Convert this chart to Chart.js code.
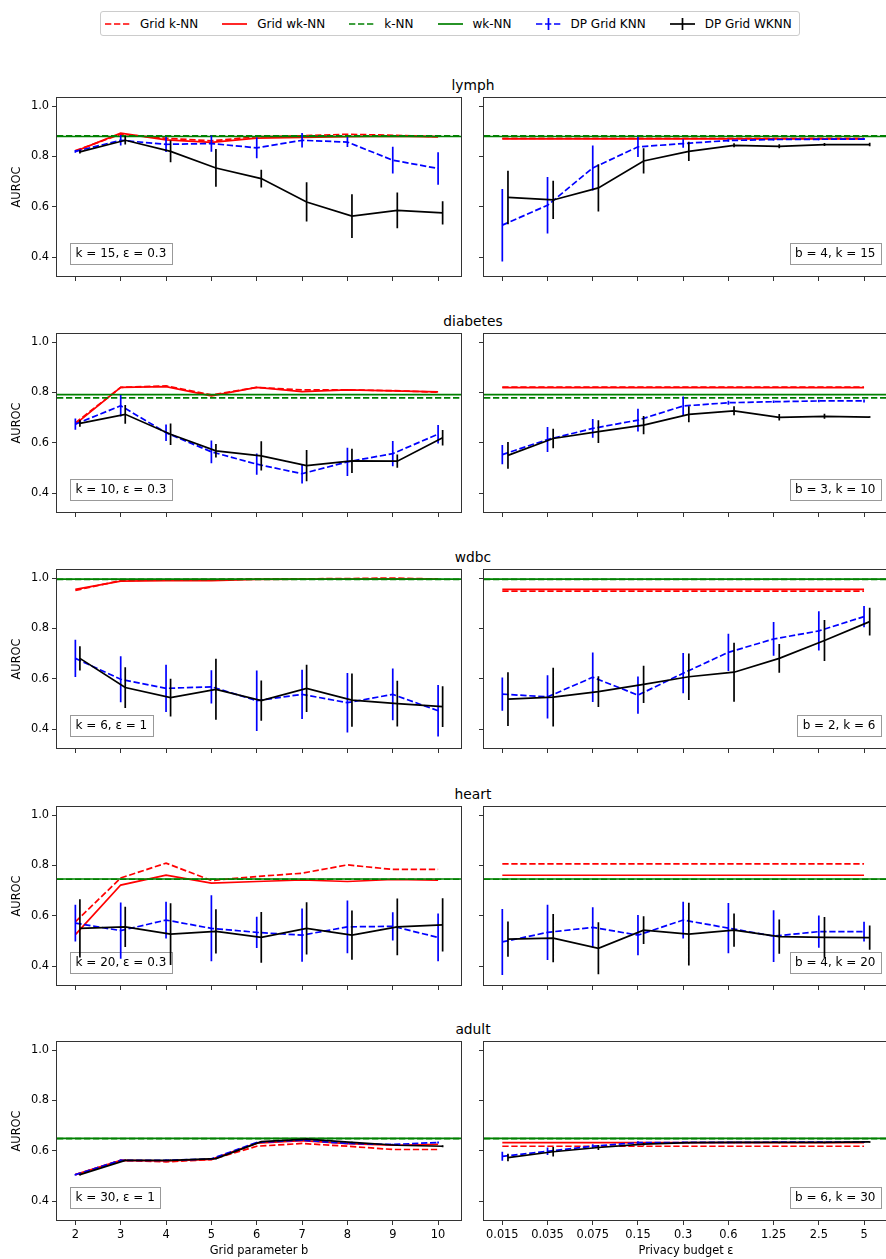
<!DOCTYPE html>
<html>
<head>
<meta charset="utf-8">
<script src="https://cdn.jsdelivr.net/npm/chart.js"></script>
<style>
  body { margin: 0; width: 886px; height: 1259px; overflow: hidden; background: #fff; position: relative; font-family: "DejaVu Sans"; }
  .panel { position: absolute; }
  .title { position: absolute; width: 200px; text-align: center; font-size: 13.8px; line-height: 14px; color: #000; }
  #legend { position: absolute; left: 100px; top: 11px; height: 23px; padding: 0 7px 0 4px; border: 1px solid #ccc; border-radius: 3px;
            display: flex; align-items: center; font-size: 12px; color: #000; background: #fff; }
  #legend .item { display: flex; align-items: center; margin-right: 24px; }
  #legend .item:last-child { margin-right: 0; }
  #legend svg { margin-right: 10px; }
</style>
</head>
<body>
<div id="legend">
  <span class="item"><svg width="25" height="12"><line x1="0" y1="6" x2="25" y2="6" stroke="#ff0000" stroke-width="1.7" stroke-dasharray="6.3 2.7"/></svg><span>Grid k-NN</span></span>
  <span class="item"><svg width="25" height="12"><line x1="0" y1="6" x2="25" y2="6" stroke="#ff0000" stroke-width="1.7"/></svg><span>Grid wk-NN</span></span>
  <span class="item"><svg width="25" height="12"><line x1="0" y1="6" x2="25" y2="6" stroke="#008000" stroke-width="1.7" stroke-dasharray="6.3 2.7"/></svg><span>k-NN</span></span>
  <span class="item"><svg width="25" height="12"><line x1="0" y1="6" x2="25" y2="6" stroke="#008000" stroke-width="1.7"/></svg><span>wk-NN</span></span>
  <span class="item"><svg width="25" height="14"><line x1="0" y1="7" x2="25" y2="7" stroke="#0000ff" stroke-width="1.7" stroke-dasharray="6.3 2.7"/><line x1="12.5" y1="1" x2="12.5" y2="13" stroke="#0000ff" stroke-width="1.7"/></svg><span>DP Grid KNN</span></span>
  <span class="item"><svg width="25" height="14"><line x1="0" y1="7" x2="25" y2="7" stroke="#000" stroke-width="1.7"/><line x1="12.5" y1="1" x2="12.5" y2="13" stroke="#000" stroke-width="1.7"/></svg><span>DP Grid WKNN</span></span>
</div>
<script>
const names = ["lymph", "diabetes", "wdbc", "heart", "adult"];
const bValues = [2, 3, 4, 5, 6, 7, 8, 9, 10];
const epsLabels = ["0.015", "0.035", "0.075", "0.15", "0.3", "0.6", "1.25", "2.5", "5"];
const yTicks = [0.4, 0.6, 0.8, 1.0];
const leftNotes = ["k = 15, ε = 0.3", "k = 10, ε = 0.3", "k = 6, ε = 1", "k = 20, ε = 0.3", "k = 30, ε = 1"];
const rightNotes = ["b = 4, k = 15", "b = 3, k = 10", "b = 2, k = 6", "b = 4, k = 20", "b = 6, k = 30"];

// non-private baselines (horizontal lines)
const knnBase = [0.882, 0.778, 0.995, 0.745, 0.648];
const wknnBase = [0.879, 0.791, 0.996, 0.746, 0.649];

// left column: AUROC vs grid parameter b, one row per data set
const gridKnnB = [
  [0.823, 0.888, 0.872, 0.862, 0.878, 0.882, 0.888, 0.884, 0.879],
  [0.679, 0.820, 0.826, 0.790, 0.820, 0.810, 0.810, 0.807, 0.801],
  [0.951, 0.990, 0.993, 0.994, 0.996, 0.997, 0.998, 1.000, 0.996],
  [0.576, 0.750, 0.809, 0.740, 0.756, 0.769, 0.802, 0.784, 0.784],
  [0.505, 0.562, 0.556, 0.565, 0.618, 0.629, 0.618, 0.605, 0.605]
];
const gridWknnB = [
  [0.820, 0.892, 0.866, 0.856, 0.873, 0.876, 0.878, 0.880, 0.877],
  [0.674, 0.820, 0.823, 0.786, 0.820, 0.803, 0.810, 0.806, 0.802],
  [0.955, 0.988, 0.990, 0.990, 0.995, 0.996, 0.996, 0.997, 0.996],
  [0.525, 0.722, 0.761, 0.730, 0.736, 0.742, 0.736, 0.744, 0.741],
  [0.505, 0.562, 0.560, 0.566, 0.630, 0.640, 0.628, 0.622, 0.625]
];
const dpKnnB = [
  [0.820, 0.864, 0.848, 0.851, 0.834, 0.864, 0.857, 0.785, 0.752],
  [0.674, 0.747, 0.640, 0.564, 0.515, 0.477, 0.524, 0.557, 0.634],
  [0.681, 0.598, 0.562, 0.568, 0.513, 0.538, 0.505, 0.538, 0.473],
  [0.571, 0.541, 0.583, 0.550, 0.534, 0.523, 0.556, 0.558, 0.514],
  [0.505, 0.562, 0.562, 0.568, 0.633, 0.642, 0.629, 0.625, 0.633]
];
const dpKnnBErr = [
  [0.005, 0.021, 0.030, 0.032, 0.041, 0.029, 0.020, 0.053, 0.065],
  [0.022, 0.043, 0.033, 0.045, 0.042, 0.039, 0.056, 0.050, 0.037],
  [0.074, 0.091, 0.094, 0.066, 0.120, 0.098, 0.118, 0.103, 0.102],
  [0.073, 0.112, 0.073, 0.131, 0.062, 0.106, 0.105, 0.056, 0.095],
  [0.003, 0.003, 0.003, 0.003, 0.003, 0.003, 0.003, 0.003, 0.004]
];
const dpWknnB = [
  [0.818, 0.864, 0.820, 0.754, 0.712, 0.619, 0.563, 0.586, 0.576],
  [0.677, 0.713, 0.634, 0.568, 0.548, 0.509, 0.528, 0.527, 0.620],
  [0.681, 0.565, 0.525, 0.558, 0.513, 0.562, 0.515, 0.501, 0.489],
  [0.550, 0.556, 0.527, 0.538, 0.514, 0.550, 0.523, 0.556, 0.564],
  [0.505, 0.562, 0.562, 0.569, 0.636, 0.646, 0.633, 0.622, 0.618]
];
const dpWknnBErr = [
  [0.006, 0.017, 0.043, 0.075, 0.035, 0.078, 0.087, 0.071, 0.046],
  [0.013, 0.037, 0.043, 0.027, 0.058, 0.062, 0.048, 0.026, 0.031],
  [0.048, 0.081, 0.075, 0.121, 0.080, 0.094, 0.106, 0.091, 0.081],
  [0.116, 0.080, 0.123, 0.088, 0.101, 0.104, 0.098, 0.113, 0.106],
  [0.003, 0.003, 0.003, 0.003, 0.003, 0.003, 0.003, 0.003, 0.004]
];

// right column: AUROC vs privacy budget eps
const gridKnnEps = [0.872, 0.821, 0.948, 0.806, 0.618];
const gridWknnEps = [0.870, 0.819, 0.955, 0.761, 0.632];
const dpKnnEps = [
  [0.527, 0.606, 0.754, 0.838, 0.851, 0.863, 0.867, 0.868, 0.869],
  [0.553, 0.613, 0.657, 0.690, 0.746, 0.759, 0.763, 0.766, 0.766],
  [0.539, 0.528, 0.606, 0.535, 0.622, 0.705, 0.758, 0.790, 0.847],
  [0.496, 0.534, 0.554, 0.523, 0.583, 0.551, 0.519, 0.537, 0.537],
  [0.578, 0.598, 0.618, 0.632, 0.633, 0.633, 0.634, 0.634, 0.634]
];
const dpKnnEpsErr = [
  [0.144, 0.112, 0.089, 0.040, 0.017, 0.005, 0.004, 0.004, 0.004],
  [0.038, 0.050, 0.037, 0.045, 0.038, 0.008, 0.005, 0.005, 0.006],
  [0.066, 0.086, 0.098, 0.074, 0.080, 0.074, 0.067, 0.078, 0.042],
  [0.131, 0.110, 0.080, 0.080, 0.073, 0.100, 0.103, 0.064, 0.039],
  [0.018, 0.015, 0.008, 0.006, 0.003, 0.003, 0.003, 0.003, 0.003]
];
const dpWknnEps = [
  [0.637, 0.627, 0.675, 0.782, 0.820, 0.844, 0.840, 0.847, 0.847],
  [0.550, 0.617, 0.644, 0.670, 0.713, 0.727, 0.701, 0.705, 0.702],
  [0.519, 0.527, 0.549, 0.578, 0.608, 0.626, 0.681, 0.752, 0.827],
  [0.507, 0.511, 0.471, 0.543, 0.527, 0.543, 0.517, 0.514, 0.513],
  [0.573, 0.596, 0.613, 0.626, 0.632, 0.633, 0.633, 0.633, 0.635]
];
const dpWknnEpsErr = [
  [0.106, 0.076, 0.094, 0.050, 0.038, 0.008, 0.008, 0.006, 0.007],
  [0.053, 0.039, 0.045, 0.036, 0.032, 0.018, 0.013, 0.010, 0.003],
  [0.107, 0.117, 0.061, 0.074, 0.092, 0.117, 0.057, 0.081, 0.055],
  [0.070, 0.096, 0.103, 0.055, 0.125, 0.066, 0.068, 0.081, 0.048],
  [0.015, 0.019, 0.010, 0.005, 0.003, 0.003, 0.003, 0.003, 0.003]
];

const FONT = "DejaVu Sans";
const LW = 1.7;
const DASH = [6.3, 2.7];
const rowTops = [98, 334, 570, 807, 1042];

// vertical error bars, drawn right after their own line
const errorBars = {
  id: "errorBars",
  afterDatasetDraw(chart, args) {
    const ds = chart.data.datasets[args.index];
    if (!ds.err) return;
    const { ctx, chartArea: a, scales: { x, y } } = chart;
    ctx.save();
    ctx.beginPath();
    ctx.rect(a.left, a.top, a.width, a.height);
    ctx.clip();
    ctx.beginPath();
    ctx.strokeStyle = ds.borderColor;
    ctx.lineWidth = LW;
    ds.data.forEach((p, i) => {
      const px = x.getPixelForValue(p.x);
      ctx.moveTo(px, y.getPixelForValue(p.y - ds.err[i]));
      ctx.lineTo(px, y.getPixelForValue(p.y + ds.err[i]));
    });
    ctx.stroke();
    ctx.restore();
  }
};

const frame = {
  id: "frame",
  afterDraw(chart) {
    const { ctx, chartArea: a } = chart;
    ctx.save();
    ctx.strokeStyle = "#333";
    ctx.lineWidth = 1;
    ctx.strokeRect(Math.round(a.left) - 0.5, Math.round(a.top) - 0.5, Math.round(a.width) + 1, Math.round(a.height) + 1);
    ctx.restore();
  }
};

const note = {
  id: "note",
  beforeDatasetsDraw(chart, args, opts) {
    const { ctx, chartArea: a } = chart;
    ctx.save();
    ctx.font = '12px "DejaVu Sans"';
    const w = ctx.measureText(opts.text).width + 11;
    const h = 21;
    const x = opts.side === "left" ? a.left + 13 : a.right - 7 - w;
    const y = a.bottom - 12 - h;
    ctx.fillStyle = "rgba(255,255,255,0.8)";
    ctx.fillRect(x, y, w, h);
    ctx.strokeStyle = "#999";
    ctx.lineWidth = 1;
    ctx.strokeRect(Math.round(x) + 0.5, Math.round(y) + 0.5, Math.round(w), Math.round(h));
    ctx.fillStyle = "#000";
    ctx.textBaseline = "middle";
    ctx.fillText(opts.text, x + 5.5, y + h / 2 + 0.5);
    ctx.restore();
  }
};

function line(label, data, color, dashed, order, err) {
  return {
    label, data, err, order,
    borderColor: color, backgroundColor: color,
    borderWidth: LW, borderDash: dashed ? DASH : [],
    pointRadius: 0, pointHoverRadius: 0, tension: 0, fill: false
  };
}

function makePanel(r, side) {
  const isLeft = side === "left";
  const last = r === names.length - 1;
  const padL = isLeft ? 57 : 10, padR = 4, padT = 12, padB = last ? 38 : 12;
  const areaLeft = isLeft ? 57 : 484, areaW = 404, areaH = 178;

  const div = document.createElement("div");
  div.className = "panel";
  div.style.left = (areaLeft - padL) + "px";
  div.style.top = (rowTops[r] - padT) + "px";
  div.style.width = (padL + areaW + padR) + "px";
  div.style.height = (padT + areaH + padB) + "px";
  const cv = document.createElement("canvas");
  div.appendChild(cv);
  document.body.appendChild(div);

  const xs = isLeft ? bValues : epsLabels.map((_, i) => i);
  const shift = isLeft ? 0.1 : 0.125;
  const xMin = isLeft ? 1.595 : -0.405;
  const xMax = isLeft ? 10.505 : 8.53;
  const full = v => [{ x: xMin, y: v }, { x: xMax, y: v }];

  let sets;
  if (isLeft) {
    sets = [
      line("Grid k-NN", xs.map((x, i) => ({ x, y: gridKnnB[r][i] })), "#ff0000", true, 6),
      line("Grid wk-NN", xs.map((x, i) => ({ x, y: gridWknnB[r][i] })), "#ff0000", false, 5),
      line("k-NN", full(knnBase[r]), "#008000", true, 4),
      line("wk-NN", full(wknnBase[r]), "#008000", false, 3),
      line("DP Grid KNN", xs.map((x, i) => ({ x, y: dpKnnB[r][i] })), "#0000ff", true, 2, dpKnnBErr[r]),
      line("DP Grid WKNN", xs.map((x, i) => ({ x: x + shift, y: dpWknnB[r][i] })), "#000000", false, 1, dpWknnBErr[r])
    ];
  } else {
    sets = [
      line("Grid k-NN", xs.map(x => ({ x, y: gridKnnEps[r] })), "#ff0000", true, 6),
      line("Grid wk-NN", xs.map(x => ({ x, y: gridWknnEps[r] })), "#ff0000", false, 5),
      line("k-NN", full(knnBase[r]), "#008000", true, 4),
      line("wk-NN", full(wknnBase[r]), "#008000", false, 3),
      line("DP Grid KNN", xs.map((x, i) => ({ x, y: dpKnnEps[r][i] })), "#0000ff", true, 2, dpKnnEpsErr[r]),
      line("DP Grid WKNN", xs.map((x, i) => ({ x: x + shift, y: dpWknnEps[r][i] })), "#000000", false, 1, dpWknnEpsErr[r])
    ];
  }

  const tickFont = { family: FONT, size: 11.4 };
  const grid = { display: true, drawOnChartArea: false, drawTicks: true, tickLength: 5, tickColor: "#333", tickWidth: 1 };

  new Chart(cv, {
    type: "line",
    data: { datasets: sets },
    options: {
      responsive: true,
      maintainAspectRatio: false,
      animation: false,
      layout: { padding: { top: padT, right: padR, left: 0, bottom: 0 } },
      plugins: {
        legend: { display: false },
        tooltip: { enabled: false },
        note: { text: isLeft ? leftNotes[r] : rightNotes[r], side }
      },
      scales: {
        x: {
          type: "linear", min: xMin, max: xMax,
          afterBuildTicks: s => { s.ticks = xs.map(v => ({ value: v })); },
          afterFit: s => { s.height = padB; },
          grid, border: { display: false },
          ticks: {
            display: last, autoSkip: false, maxRotation: 0, padding: 3, color: "#000", font: tickFont,
            callback: (v, i) => isLeft ? String(bValues[i]) : epsLabels[i]
          },
          title: { display: last, text: isLeft ? "Grid parameter b" : "Privacy budget ε", color: "#000",
                   font: tickFont, padding: { top: 0, bottom: 0 } }
        },
        y: {
          type: "linear", min: 0.325, max: 1.032,
          afterBuildTicks: s => { s.ticks = yTicks.map(v => ({ value: v })); },
          afterFit: s => { s.width = padL; },
          grid, border: { display: false },
          ticks: { display: isLeft, padding: 3, color: "#000", font: tickFont, callback: v => v.toFixed(1) },
          title: { display: isLeft, text: "AUROC", color: "#000", font: tickFont, padding: { top: 10, bottom: 0 } }
        }
      }
    },
    plugins: [errorBars, note, frame]
  });
}

names.forEach((n, r) => {
  const t = document.createElement("div");
  t.className = "title";
  t.textContent = n;
  t.style.left = (473 - 100) + "px";
  t.style.top = (rowTops[r] - 20) + "px";
  document.body.appendChild(t);
  makePanel(r, "left");
  makePanel(r, "right");
});
</script>
</body>
</html>
